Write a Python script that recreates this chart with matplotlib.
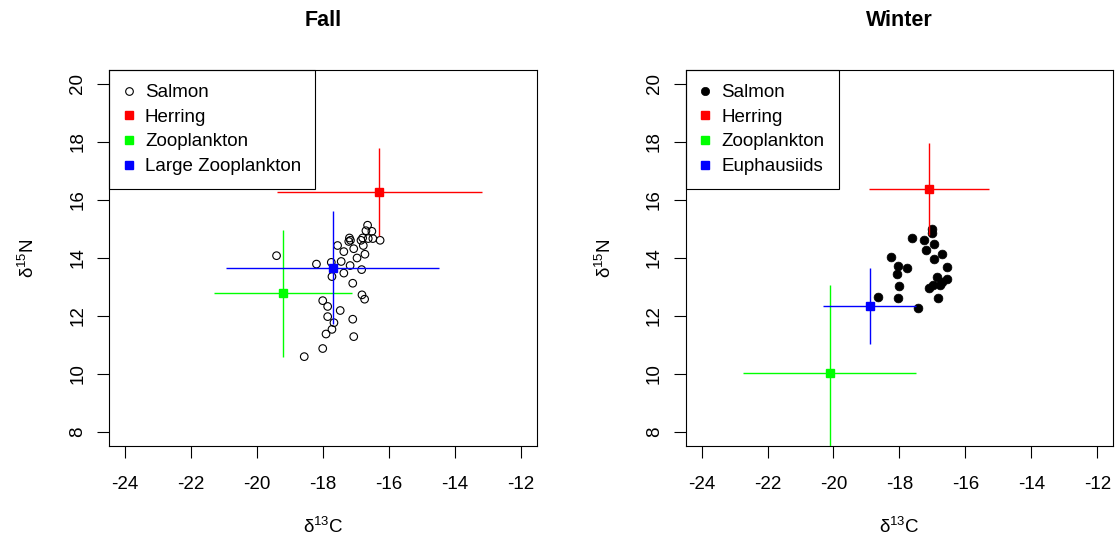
import matplotlib
matplotlib.use("Agg")
import matplotlib.pyplot as plt
from matplotlib.lines import Line2D

plt.rcParams['font.family'] = ['Liberation Sans', 'DejaVu Sans']
plt.rcParams['mathtext.fontset'] = 'custom'
plt.rcParams['mathtext.rm'] = 'Liberation Sans'
plt.rcParams['mathtext.it'] = 'Liberation Sans:italic'
plt.rcParams['mathtext.bf'] = 'Liberation Sans:bold'

# ---------------- data ----------------
fall_salmon_c = [-19.41, -18.20, -17.75, -17.73, -17.56, -17.37, -17.45, -17.37, -17.20, -17.17,
                 -17.22, -17.07, -17.18, -16.97, -17.10, -16.83, -16.85, -16.78, -16.73, -16.80,
                 -16.65, -16.70, -16.52, -16.49, -16.27, -16.63, -16.82, -16.74, -18.01, -17.86,
                 -17.48, -17.86, -17.67, -17.10, -17.73, -17.91, -17.07, -18.01, -18.57]
fall_salmon_n = [14.08, 13.79, 13.85, 13.36, 14.43, 14.22, 13.88, 13.48, 14.69, 14.61,
                 14.57, 14.32, 13.74, 14.00, 13.13, 13.60, 14.61, 14.43, 14.13, 14.69,
                 15.13, 14.94, 14.92, 14.67, 14.61, 14.67, 12.73, 12.58, 12.53, 12.33,
                 12.19, 11.98, 11.77, 11.89, 11.54, 11.38, 11.29, 10.88, 10.60]

fall_prey = ['Herring', 'Zooplankton', 'Large Zooplankton']
fall_prey_c = [-16.29, -19.21, -17.71]
fall_prey_n = [16.28, 12.78, 13.67]
fall_prey_c_sd = [3.12, 2.10, 3.23]
fall_prey_n_sd = [1.52, 2.20, 1.95]

winter_salmon_c = [-17.02, -17.02, -17.62, -17.26, -16.95, -17.21, -16.71, -18.26, -16.95, -16.56,
                   -18.05, -17.78, -18.07, -16.87, -16.57, -16.70, -16.99, -17.11, -16.77, -18.01,
                   -18.65, -18.04, -16.83, -17.43]
winter_salmon_n = [15.01, 14.86, 14.69, 14.61, 14.48, 14.27, 14.14, 14.04, 13.96, 13.70,
                   13.71, 13.65, 13.44, 13.36, 13.28, 13.16, 13.08, 12.96, 13.08, 13.05,
                   12.67, 12.61, 12.61, 12.27]

winter_prey = ['Herring', 'Zooplankton', 'Euphausiids']
winter_prey_c = [-17.11, -20.12, -18.90]
winter_prey_n = [16.38, 10.05, 12.36]
winter_prey_c_sd = [1.82, 2.62, 1.41]
winter_prey_n_sd = [1.58, 3.03, 1.31]

prey_colors = ['#FF0000', '#00FF00', '#0000FF']
panel_titles = ['Fall', 'Winter']
x_ticks = [-24, -22, -20, -18, -16, -14, -12]
y_ticks = [8, 10, 12, 14, 16, 18, 20]

# ---------------- figure ----------------
W, H = 1118, 546
fig = plt.figure(figsize=(W / 100, H / 100), dpi=100)
ax_left_px = [109.3, 685.7]
ax_w_px = 427.5
ax_top_px, ax_bot_px = 70, 446
axes = []
for lx in ax_left_px:
    axes.append(fig.add_axes([lx / W, 1 - ax_bot_px / H, ax_w_px / W, (ax_bot_px - ax_top_px) / H]))

FS = 13.5
panels = [
    (fall_salmon_c, fall_salmon_n, False, fall_prey, fall_prey_c, fall_prey_n, fall_prey_c_sd, fall_prey_n_sd),
    (winter_salmon_c, winter_salmon_n, True, winter_prey, winter_prey_c, winter_prey_n, winter_prey_c_sd, winter_prey_n_sd),
]

for ax, title, (sc, sn, filled, pnames, pc, pn, pcsd, pnsd) in zip(axes, panel_titles, panels):
    if filled:
        ax.scatter(sc, sn, s=40, c='black', edgecolors='black', linewidths=0.5, zorder=2)
    else:
        ax.scatter(sc, sn, s=30, facecolors='none', edgecolors='black', linewidths=0.8, zorder=2)
    for i in range(len(pnames)):
        ax.errorbar([pc[i]], [pn[i]], xerr=[pcsd[i]], yerr=[pnsd[i]], fmt='s', color=prey_colors[i],
                    ms=6, elinewidth=1.0, capsize=0, zorder=3)

    ax.set_xlim(-24.48, -11.52)
    ax.set_ylim(7.52, 20.48)
    ax.set_xticks(x_ticks)
    ax.set_yticks(y_ticks)
    ax.set_xticklabels([str(v) for v in x_ticks], fontsize=FS)
    ax.set_yticklabels([str(v) for v in y_ticks], fontsize=FS, rotation=90, va='center')
    ax.tick_params(axis='x', direction='out', length=8.5, width=0.8, pad=13)
    ax.tick_params(axis='y', direction='out', length=9, width=0.8, pad=7.5)
    for sp in ax.spines.values():
        sp.set_linewidth(0.8)
        sp.set_color('black')

    ax.set_title(title, fontsize=15.5, fontweight='bold', y=1 + 50 / 376, va='center', pad=0)
    ax.set_xlabel('δ$^{13}$C', fontsize=FS)
    ax.xaxis.set_label_coords(0.5, -81 / 376)
    ax.xaxis.label.set_va('center')
    ax.set_ylabel('δ$^{15}$N', fontsize=FS)
    ax.yaxis.set_label_coords(-81 / 427.5, 0.5)
    ax.yaxis.label.set_va('center')

    handles = [Line2D([], [], marker='o', linestyle='none', ms=6 if filled else 5.5,
                      mfc='black' if filled else 'none', mec='black', mew=0.5 if filled else 0.8)]
    for i in range(len(pnames)):
        handles.append(Line2D([], [], marker='s', linestyle='none', ms=6, color=prey_colors[i]))
    leg = ax.legend(handles, ['Salmon'] + pnames, loc='upper left', bbox_to_anchor=(0, 1),
                    borderaxespad=0, fontsize=FS, frameon=True, fancybox=False, framealpha=1,
                    edgecolor='black', handlelength=0.6, handletextpad=0.55, labelspacing=0.4,
                    borderpad=0.75)
    leg.get_frame().set_linewidth(0.8)
    leg.set_zorder(1)

fig.savefig('out.png', dpi=100)
